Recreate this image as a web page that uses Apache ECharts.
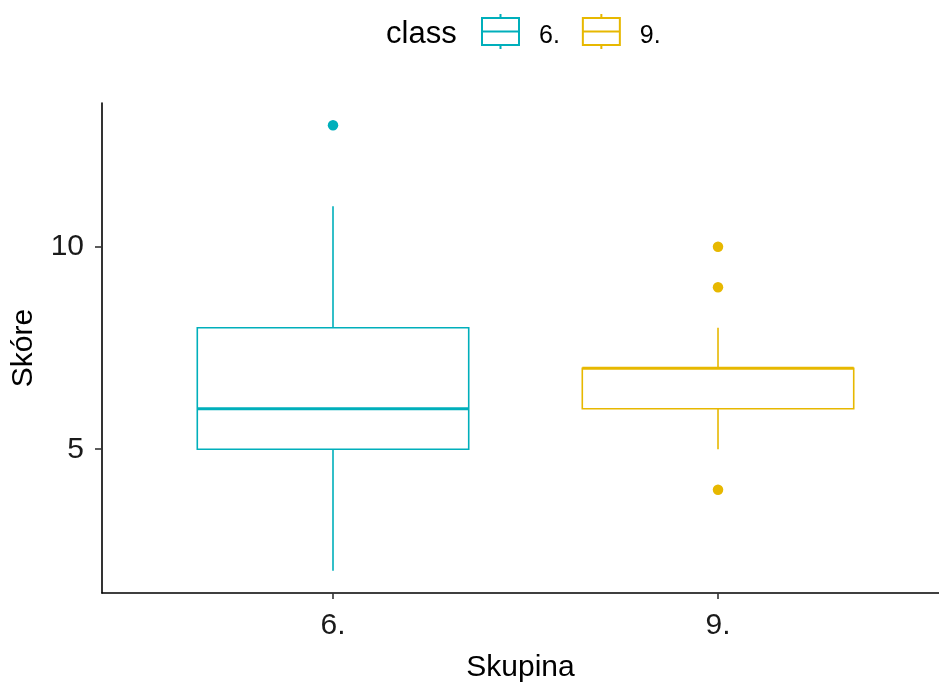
<!DOCTYPE html>
<html>
<head>
<meta charset="utf-8">
<script src="https://cdn.jsdelivr.net/npm/echarts@6/dist/echarts.min.js"></script>
<style>html,body{margin:0;padding:0;background:#fff}#c{width:939px;height:682px}</style>
</head>
<body>
<div id="c"></div>
<script>
// ---- data ----
const categories = ['6.', '9.'];
// [lower whisker, Q1, median, Q3, upper whisker]
const box6 = [2, 5, 6, 8, 11];
const box9 = [5, 6, 7, 7, 8];
const outliers6 = [13];
const outliers9 = [10, 9, 4];
const yTicks = [5, 10];
const xTicks = [1, 2];

const col6 = '#00AFBB';
const col9 = '#E7B800';
const FONT = 'Liberation Sans, Arial, sans-serif';

const legendIcon = 'path://M18.5,0 L18.5,4 M0,4 L37,4 L37,31 L0,31 Z M0,17.5 L37,17.5 M18.5,31 L18.5,35';

function renderBox(params, api) {
  const x = api.value(0);
  const lo = api.value(1), q1 = api.value(2), med = api.value(3), q3 = api.value(4), hi = api.value(5);
  const half = api.size([0.705, 0])[0] / 2;
  const pLo = api.coord([x, lo]), pQ1 = api.coord([x, q1]), pMed = api.coord([x, med]);
  const pQ3 = api.coord([x, q3]), pHi = api.coord([x, hi]);
  const color = api.visual('color');
  const lw = 1.6;
  return {
    type: 'group',
    children: [
      { type: 'line', shape: { x1: pHi[0], y1: pHi[1], x2: pQ3[0], y2: pQ3[1] }, style: { stroke: color, lineWidth: lw } },
      { type: 'line', shape: { x1: pQ1[0], y1: pQ1[1], x2: pLo[0], y2: pLo[1] }, style: { stroke: color, lineWidth: lw } },
      { type: 'rect', shape: { x: pQ3[0] - half, y: pQ3[1], width: 2 * half, height: pQ1[1] - pQ3[1] }, style: { fill: '#fff', stroke: color, lineWidth: lw } },
      { type: 'line', shape: { x1: pMed[0] - half, y1: pMed[1], x2: pMed[0] + half, y2: pMed[1] }, style: { stroke: color, lineWidth: 3.2 } }
    ]
  };
}

const chart = echarts.init(document.getElementById('c'), null, { renderer: 'canvas' });
chart.setOption({
  animation: false,
  backgroundColor: '#fff',
  textStyle: { fontFamily: FONT },
  grid: { left: 102, right: 0, top: 103, bottom: 89, containLabel: false, outerBoundsMode: 'none' },
  title: {
    text: 'class', left: 381, top: 14,
    textStyle: { fontFamily: FONT, fontSize: 31, fontWeight: 'normal', color: '#000' }
  },
  legend: {
    left: 476, top: 8,
    itemWidth: 37, itemHeight: 35, itemGap: 22,
    formatter: name => '{t|' + name + '}',
    textStyle: {
      fontFamily: FONT, fontSize: 25, color: '#000',
      rich: { t: { fontFamily: FONT, fontSize: 25, color: '#000', padding: [9, 0, 0, 15] } }
    },
    data: [
      { name: '6.', icon: legendIcon, itemStyle: { color: '#fff', borderColor: col6, borderWidth: 2 } },
      { name: '9.', icon: legendIcon, itemStyle: { color: '#fff', borderColor: col9, borderWidth: 2 } }
    ],
    selectedMode: false
  },
  xAxis: {
    type: 'value', min: 0.4, max: 2.574,
    name: 'Skupina', nameLocation: 'middle', nameGap: 60,
    nameTextStyle: { fontFamily: FONT, fontSize: 30, color: '#000' },
    axisLine: { show: true, lineStyle: { color: '#000', width: 1.6 } },
    axisTick: { show: true, length: 6, customValues: xTicks, lineStyle: { color: '#333', width: 1.6 } },
    axisLabel: {
      customValues: xTicks, margin: 18, fontFamily: FONT, fontSize: 30, color: '#1a1a1a',
      formatter: v => categories[Math.round(v) - 1]
    },
    splitLine: { show: false }
  },
  yAxis: {
    type: 'value', min: 1.45, max: 13.55,
    name: 'Skóre', nameLocation: 'middle', nameGap: 63,
    nameTextStyle: { fontFamily: FONT, fontSize: 30, color: '#000' },
    axisLine: { show: true, lineStyle: { color: '#000', width: 1.6 } },
    axisTick: { show: true, length: 7, customValues: yTicks, lineStyle: { color: '#333', width: 1.6 } },
    axisLabel: { customValues: yTicks, margin: 18, fontFamily: FONT, fontSize: 30, color: '#1a1a1a' },
    splitLine: { show: false }
  },
  series: [
    {
      name: '6.', type: 'custom', renderItem: renderBox, itemStyle: { color: col6 },
      encode: { x: 0, y: [1, 2, 3, 4, 5] },
      data: [[1].concat(box6)], z: 2
    },
    {
      name: '9.', type: 'custom', renderItem: renderBox, itemStyle: { color: col9 },
      encode: { x: 0, y: [1, 2, 3, 4, 5] },
      data: [[2].concat(box9)], z: 2
    },
    {
      name: '6.', type: 'scatter', symbolSize: 10.5, itemStyle: { color: col6, opacity: 1 },
      data: outliers6.map(v => [1, v]), z: 3
    },
    {
      name: '9.', type: 'scatter', symbolSize: 10.5, itemStyle: { color: col9, opacity: 1 },
      data: outliers9.map(v => [2, v]), z: 3
    }
  ]
});
</script>
</body>
</html>
